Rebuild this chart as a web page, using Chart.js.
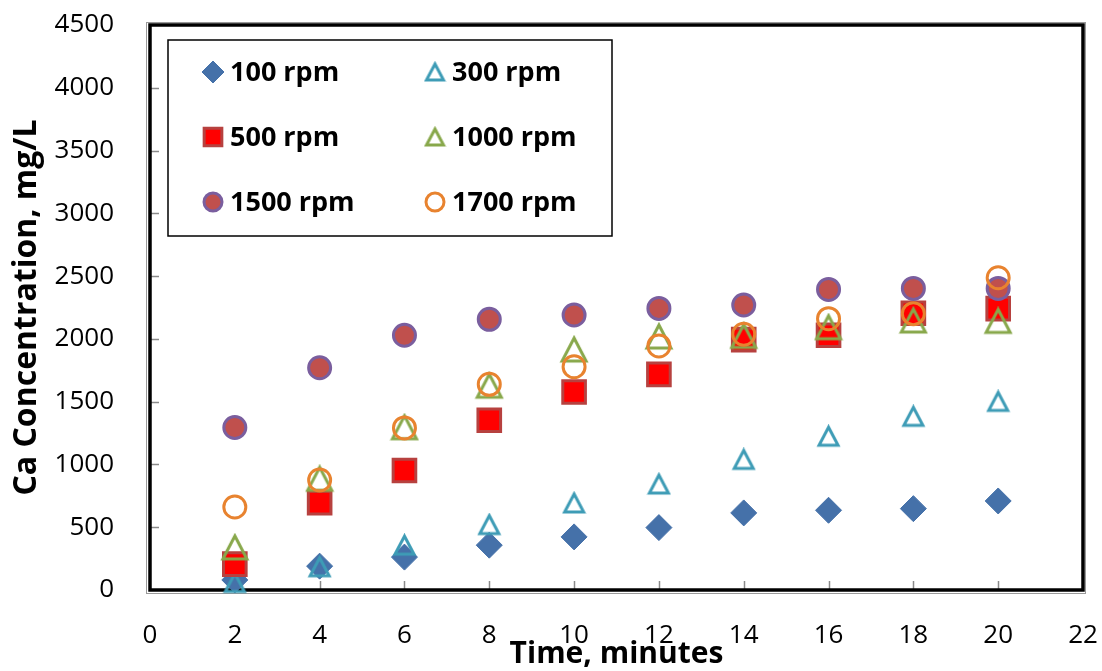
<!DOCTYPE html>
<html>
<head>
<meta charset="utf-8">
<script src="https://cdn.jsdelivr.net/npm/chart.js@4.4.1/dist/chart.umd.min.js"></script>
<style>
html,body{margin:0;padding:0;background:#fff;}
#wrap{width:1102px;height:671px;position:relative;}
</style>
</head>
<body>
<div id="wrap"><canvas id="c" width="1102" height="671"></canvas></div>
<script>
// ---- data ----
const times = [2, 4, 6, 8, 10, 12, 14, 16, 18, 20];
const rpm100  = [80, 190, 262, 357, 423, 497, 614, 635, 648, 709];
const rpm300  = [60, 185, 357, 521, 693, 844, 1040, 1225, 1383, 1502];
const rpm500  = [206, 696, 952, 1352, 1577, 1717, 1994, 2029, 2204, 2241];
const rpm1000 = [339, 886, 1296, 1627, 1915, 2019, 2024, 2093, 2146, 2143];
const rpm1500 = [1294, 1770, 2029, 2156, 2190, 2243, 2270, 2394, 2402, 2402];
const rpm1700 = [661, 876, 1291, 1638, 1778, 1944, 2037, 2161, 2201, 2487];
const seriesLabels = ['100 rpm', '300 rpm', '500 rpm', '1000 rpm', '1500 rpm', '1700 rpm'];
const xTicks = [0, 2, 4, 6, 8, 10, 12, 14, 16, 18, 20, 22];
const yTicks = [0, 500, 1000, 1500, 2000, 2500, 3000, 3500, 4000, 4500];

// hollow triangle image centred on its bounding box
function triImg(w, h, color, lw) {
  const c = document.createElement('canvas');
  c.width = w + lw * 2; c.height = h + lw * 2;
  const g = c.getContext('2d');
  g.strokeStyle = color; g.lineWidth = lw; g.lineJoin = 'miter';
  g.beginPath();
  g.moveTo(c.width / 2, lw);
  g.lineTo(c.width - lw, c.height - lw);
  g.lineTo(lw, c.height - lw);
  g.closePath();
  g.stroke();
  return c;
}
const C300 = '#3E9CB6', C1000 = '#88A84B';
const tri300 = triImg(19, 18, C300, 3);
const tri1000 = triImg(24, 23, C1000, 3);
const tri300L = triImg(17, 16, C300, 3);
const tri1000L = triImg(17, 16, C1000, 3);

function pts(arr) { return times.map((t, i) => ({x: t, y: arr[i]})); }

const styles = [
  {pointStyle: 'rectRot', radius: 13, bg: '#4571A9', bc: '#4571A9', bw: 1},
  {pointStyle: tri300, radius: 12, bg: 'transparent', bc: C300, bw: 0},
  {pointStyle: 'rect', radius: 16, bg: '#FF0000', bc: '#B7413F', bw: 3},
  {pointStyle: tri1000, radius: 14, bg: 'transparent', bc: C1000, bw: 0},
  {pointStyle: 'circle', radius: 11, bg: '#C0504D', bc: '#7A5E9E', bw: 3},
  {pointStyle: 'circle', radius: 11, bg: 'transparent', bc: '#E8832F', bw: 3}
];
const legendStyles = [
  {pointStyle: 'rectRot', radius: 11, bg: '#4571A9', bc: '#4571A9', bw: 1},
  {pointStyle: tri300L, radius: 10, bg: 'transparent', bc: C300, bw: 0},
  {pointStyle: 'rect', radius: 12.5, bg: '#FF0000', bc: '#B7413F', bw: 3},
  {pointStyle: tri1000L, radius: 10, bg: 'transparent', bc: C1000, bw: 0},
  {pointStyle: 'circle', radius: 9, bg: '#C0504D', bc: '#7A5E9E', bw: 3},
  {pointStyle: 'circle', radius: 9, bg: 'transparent', bc: '#E8832F', bw: 3}
];
const seriesData = [rpm100, rpm300, rpm500, rpm1000, rpm1500, rpm1700];

const datasets = seriesData.map((d, i) => ({
  label: seriesLabels[i],
  data: pts(d),
  showLine: false,
  pointStyle: styles[i].pointStyle,
  pointRadius: styles[i].radius,
  pointHoverRadius: styles[i].radius,
  pointBackgroundColor: styles[i].bg,
  pointBorderColor: styles[i].bc,
  pointBorderWidth: styles[i].bw,
  clip: false,
  order: 6 - i
}));

const FONT = "'Open Sans', 'DejaVu Sans', sans-serif";

const framePlugin = {
  id: 'frame',
  beforeDatasetsDraw(chart) {
    const {ctx, chartArea: a, scales} = chart;
    ctx.save();
    ctx.strokeStyle = '#8a8a8a';
    ctx.lineWidth = 1.5;
    ctx.beginPath();
    yTicks.forEach(v => {
      if (v === 0 || v === 4500) return;
      const y = Math.round(scales.y.getPixelForValue(v)) + 0.5;
      ctx.moveTo(a.left, y); ctx.lineTo(a.left + 9, y);
    });
    xTicks.forEach(v => {
      if (v === 0 || v === 22) return;
      const x = Math.round(scales.x.getPixelForValue(v)) + 0.5;
      ctx.moveTo(x, a.bottom); ctx.lineTo(x, a.bottom - 9);
    });
    ctx.stroke();
    ctx.strokeStyle = '#9a9a9a';
    ctx.lineWidth = 1;
    ctx.strokeRect(a.left - 3.5, a.top - 2.5, a.right - a.left + 6, a.bottom - a.top + 6);
    ctx.strokeStyle = '#000';
    ctx.lineWidth = 3.5;
    ctx.strokeRect(a.left, a.top, a.right - a.left, a.bottom - a.top);
    ctx.restore();
  }
};

const legendPlugin = {
  id: 'boxLegend',
  afterDatasetsDraw(chart) {
    const {ctx} = chart;
    ctx.save();
    ctx.fillStyle = '#fff';
    ctx.fillRect(168, 40, 444, 196);
    ctx.strokeStyle = '#000';
    ctx.lineWidth = 1.5;
    ctx.strokeRect(168, 40, 444, 196);
    const colX = [213, 435];
    const rowY = [72, 137, 202];
    for (let i = 0; i < 6; i++) {
      const col = i % 2, row = Math.floor(i / 2);
      const x = colX[col], y = rowY[row];
      const s = legendStyles[i];
      ctx.fillStyle = s.bg;
      ctx.strokeStyle = s.bc;
      ctx.lineWidth = s.bw;
      Chart.helpers.drawPoint(ctx, {pointStyle: s.pointStyle, radius: s.radius, rotation: 0, borderWidth: s.bw}, x, y);
      ctx.fillStyle = '#000';
      ctx.font = "bold 27px " + FONT;
      ctx.textBaseline = 'middle';
      ctx.textAlign = 'left';
      ctx.fillText(seriesLabels[i], x + 17, y + 1);
    }
    ctx.restore();
  }
};

new Chart(document.getElementById('c'), {
  type: 'scatter',
  data: {datasets},
  plugins: [framePlugin, legendPlugin],
  options: {
    responsive: false,
    animation: false,
    events: [],
    layout: {padding: {left: 0, right: 18, top: 25, bottom: 0}},
    plugins: {legend: {display: false}, tooltip: {enabled: false}},
    scales: {
      x: {
        type: 'linear', min: 0, max: 22,
        afterBuildTicks(scale) { scale.ticks = xTicks.map(v => ({value: v})); },
        afterFit(scale) { scale.height = 81; scale.paddingLeft = 0; scale.paddingRight = 0; },
        grid: {display: false},
        border: {display: false},
        ticks: {color: '#000', font: {family: FONT, size: 26}, padding: 22, maxRotation: 0, autoSkip: false,
          callback: v => String(v)},
        title: {display: true, text: 'Time, minutes', color: '#000',
          font: {family: FONT, size: 30, weight: 'bold', lineHeight: 1}, padding: {top: 0, bottom: 2}}
      },
      y: {
        type: 'linear', min: 0, max: 4500,
        afterBuildTicks(scale) { scale.ticks = yTicks.map(v => ({value: v})); },
        afterFit(scale) { scale.width = 150; scale.paddingTop = 0; scale.paddingBottom = 0; },
        grid: {display: false},
        border: {display: false},
        ticks: {color: '#000', font: {family: FONT, size: 26}, padding: 28, autoSkip: false,
          callback: v => String(v)},
        title: {display: true, text: 'Ca Concentration, mg/L', color: '#000',
          font: {family: FONT, size: 32, weight: 'bold', lineHeight: 1}, padding: {top: 11, bottom: 0}}
      }
    }
  }
});
</script>
</body>
</html>
